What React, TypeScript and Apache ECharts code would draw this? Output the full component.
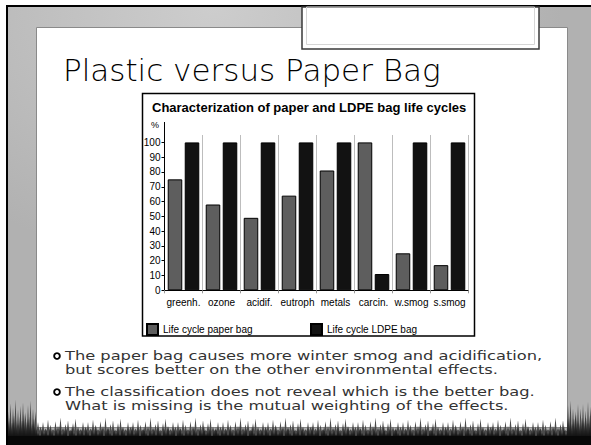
import React, { useEffect, useRef } from "react";
import * as echarts from "echarts";

const categories = ["greenh.", "ozone", "acidif.", "eutroph", "metals", "carcin.", "w.smog", "s.smog"];
const paperBag = [75, 58, 49, 64, 81, 100, 25, 17];
const ldpeBag = [100, 100, 100, 100, 100, 11, 100, 100];
const yTicks = [0, 10, 20, 30, 40, 50, 60, 70, 80, 90, 100];
const seriesNames = ["Life cycle paper bag", "Life cycle LDPE bag"];
const slideTitle = "Plastic versus Paper Bag";
const chartTitle = "Characterization of paper and LDPE bag life cycles";
const unitLabel = "%";
const bullets = [
  ["The paper bag causes more winter smog and acidification,", "but scores better on the other environmental effects."],
  ["The classification does not reveal which is the better bag.", "What is missing is the mutual weighting of the effects."],
];
// decorative grass blade heights (pattern repeated across the bottom)
const bladePattern = [6, 11, 4, 14, 8, 3, 12, 7, 16, 5, 9, 13, 2, 10, 15, 6, 3, 11];

const ARIAL = '"Liberation Sans", Arial, sans-serif';
const SLIDE_FONT = '"DejaVu Sans", sans-serif';

function grassPolygon(base: number, scale: number, offset: number, step: number, edgeBoost: number) {
  const pts: number[][] = [[8, 445]];
  let i = 0;
  for (let x = 8; x <= 591; x += step) {
    let h = bladePattern[(i + offset) % bladePattern.length] * scale;
    if (x < 36 || x > 566) h += edgeBoost;
    pts.push([x, base - h]);
    pts.push([x + step / 2, base - 1]);
    i++;
  }
  pts.push([591, 445]);
  return pts;
}

export default function App() {
  const ref = useRef<HTMLDivElement>(null);
  useEffect(() => {
    if (!ref.current) return;
    const chart = echarts.init(ref.current, undefined, { renderer: "svg" });
    const textEls: any[] = [];
    const lineYs = [[355, 369], [391, 405]];
    bullets.forEach((b, bi) => {
      textEls.push({
        type: "ring",
        z: 3,
        shape: { cx: 57, cy: lineYs[bi][0] + 1, r: 3.8, r0: 1.9 },
        style: { fill: "#000" },
      });
      b.forEach((line, li) => {
        textEls.push({
          type: "text",
          z: 3,
          x: 65,
          y: lineYs[bi][li],
          scaleX: 1.25,
          style: {
            text: line,
            font: `13px ${SLIDE_FONT}`,
            fill: "#333",
            align: "left",
            verticalAlign: "middle",
          },
        });
      });
    });

    chart.setOption({
      animation: false,
      backgroundColor: "#fff",
      title: {
        text: chartTitle,
        left: 147,
        top: 96,
        z: 10,
        textStyle: { fontSize: 13, fontWeight: "bold", fontFamily: ARIAL, color: "#000" },
      },
      legend: [
        {
          data: [seriesNames[0]],
          left: 146,
          top: 323,
          icon: "rect",
          itemWidth: 11,
          itemHeight: 11,
          z: 10,
          padding: 0,
          textStyle: { fontSize: 10, fontFamily: ARIAL, color: "#000" },
        },
        {
          data: [seriesNames[1]],
          left: 310,
          top: 323,
          icon: "rect",
          itemWidth: 11,
          itemHeight: 11,
          z: 10,
          padding: 0,
          textStyle: { fontSize: 10, fontFamily: ARIAL, color: "#000" },
        },
      ],
      grid: { left: 164.5, right: 122.5, top: 135, bottom: 154.7, containLabel: false },
      xAxis: {
        type: "category",
        data: categories,
        z: 10,
        axisLine: { lineStyle: { color: "#000", width: 1 } },
        axisTick: { show: true, length: 3, lineStyle: { color: "#999" } },
        axisLabel: { fontSize: 10, fontFamily: ARIAL, color: "#000", margin: 7, interval: 0 },
        splitLine: { show: true, interval: 0, lineStyle: { color: "#bdbdbd", width: 1 } },
      },
      yAxis: {
        type: "value",
        min: 0,
        max: 105,
        interval: 5,
        z: 10,
        axisLine: { show: true, lineStyle: { color: "#000", width: 1 } },
        axisTick: { show: true, length: 3, customValues: yTicks, lineStyle: { color: "#000" } },
        axisLabel: { fontSize: 10, fontFamily: ARIAL, color: "#000", margin: 4, customValues: yTicks },
        splitLine: { show: false },
      },
      series: [
        {
          name: seriesNames[0],
          type: "bar",
          data: paperBag,
          z: 10,
          barGap: "17%",
          barCategoryGap: "17%",
          itemStyle: { color: "#5e5e5e", borderColor: "#000", borderWidth: 1 },
        },
        {
          name: seriesNames[1],
          type: "bar",
          data: ldpeBag,
          z: 10,
          barGap: "17%",
          barCategoryGap: "17%",
          itemStyle: { color: "#121212", borderColor: "#000", borderWidth: 1 },
        },
      ],
      graphic: {
        elements: [
          {
            type: "rect",
            z: 0,
            shape: { x: 8, y: 7, width: 583, height: 438 },
            style: {
              fill: {
                type: "radial",
                x: 0.35,
                y: 0,
                r: 0.6,
                colorStops: [
                  { offset: 0, color: "#cdcdcd" },
                  { offset: 1, color: "#b1b1b1" },
                ],
              },
            },
          },
          { type: "rect", z: 1, shape: { x: 6, y: 5, width: 2, height: 440 }, style: { fill: "#000" } },
          { type: "rect", z: 1, shape: { x: 6, y: 5, width: 585, height: 2 }, style: { fill: "#000" } },
          {
            type: "rect",
            z: 1,
            shape: { x: 36.5, y: 27.5, width: 531, height: 400 },
            style: { fill: "#fff", stroke: "#8a8a8a", lineWidth: 1 },
          },
          {
            type: "rect",
            z: 2,
            shape: { x: 302, y: 7, width: 237, height: 42 },
            style: { fill: "#fff", stroke: "#3a3a3a", lineWidth: 1.5 },
          },
          {
            type: "rect",
            z: 2,
            shape: { x: 306.5, y: 7, width: 228, height: 37.5 },
            style: { fill: "none", stroke: "#d6d6d6", lineWidth: 1 },
          },
          {
            type: "rect",
            z: 2,
            shape: { x: 142.5, y: 93.5, width: 332, height: 242.5 },
            style: { fill: "#fff", stroke: "#000", lineWidth: 1.5 },
          },
          {
            type: "line",
            z: 11,
            shape: { x1: 164.5, y1: 122, x2: 164.5, y2: 135 },
            style: { stroke: "#000", lineWidth: 1 },
          },
          {
            type: "text",
            z: 11,
            x: 155,
            y: 125,
            style: { text: unitLabel, font: `9px ${ARIAL}`, fill: "#000", align: "center", verticalAlign: "middle" },
          },
          {
            type: "text",
            z: 3,
            x: 63,
            y: 70,
            style: {
              text: slideTitle,
              font: `200 31px ${SLIDE_FONT}`,
              fill: "#000",
              align: "left",
              verticalAlign: "middle",
            },
          },
          ...textEls,
          {
            type: "polygon",
            z: 4,
            shape: { points: grassPolygon(432, 0.9, 5, 2.5, 18) },
            style: { fill: "#4a4a4a" },
          },
          {
            type: "polygon",
            z: 5,
            shape: { points: grassPolygon(437, 0.7, 0, 2, 12) },
            style: { fill: "#141414" },
          },
          { type: "rect", z: 5, shape: { x: 8, y: 436, width: 583, height: 9 }, style: { fill: "#080808" } },
        ],
      },
    });
    return () => chart.dispose();
  }, []);
  return (
    <div
      ref={ref}
      style={{ position: "fixed", left: 0, top: 0, width: 591, height: 445 }}
    />
  );
}
